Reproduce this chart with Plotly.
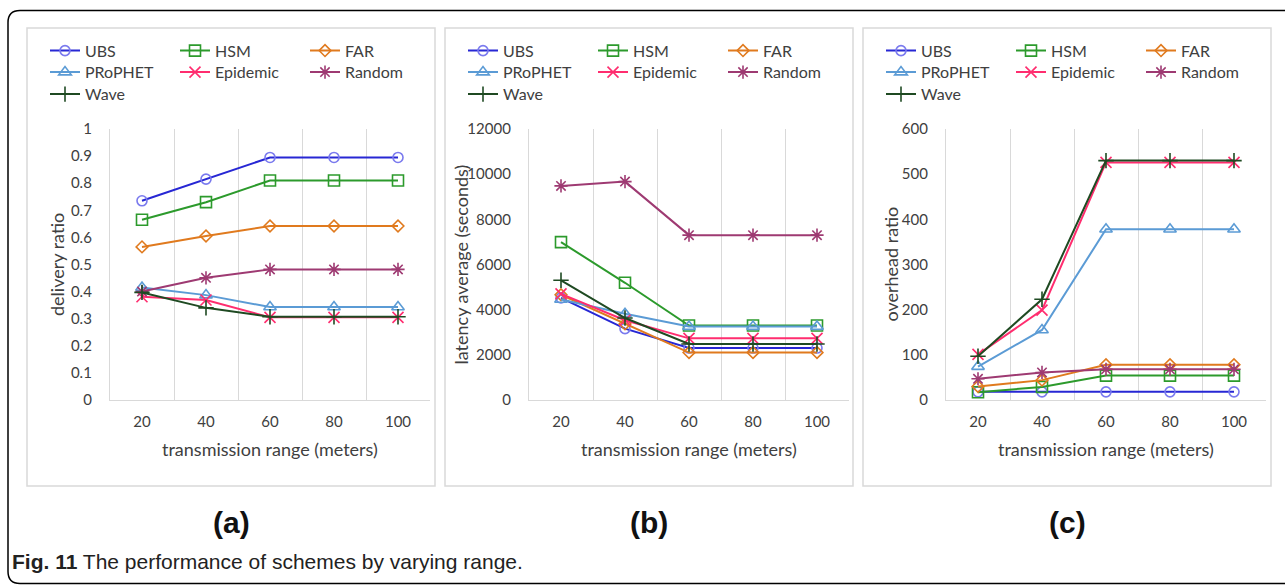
import plotly.graph_objects as go

W, H = 1285, 586
FONT = "Lato, 'Open Sans', sans-serif"

# ---------------- data ----------------
ranges = ["20", "40", "60", "80", "100"]
series_names = ["UBS", "HSM", "FAR", "PRoPHET", "Epidemic", "Random", "Wave"]

# (a) delivery ratio
delivery_UBS = [0.735, 0.815, 0.895, 0.895, 0.895]
delivery_HSM = [0.665, 0.73, 0.81, 0.81, 0.81]
delivery_FAR = [0.565, 0.605, 0.642, 0.642, 0.642]
delivery_PRoPHET = [0.415, 0.387, 0.343, 0.343, 0.343]
delivery_Epidemic = [0.381, 0.369, 0.305, 0.305, 0.305]
delivery_Random = [0.40, 0.451, 0.482, 0.482, 0.482]
delivery_Wave = [0.397, 0.34, 0.307, 0.307, 0.307]

# (b) latency average (seconds)
latency_UBS = [4520, 3160, 2300, 2300, 2300]
latency_HSM = [6990, 5190, 3300, 3300, 3300]
latency_FAR = [4660, 3370, 2100, 2100, 2100]
latency_PRoPHET = [4450, 3820, 3250, 3250, 3250]
latency_Epidemic = [4700, 3530, 2730, 2730, 2730]
latency_Random = [9480, 9670, 7300, 7300, 7300]
latency_Wave = [5300, 3630, 2480, 2480, 2480]

# (c) overhead ratio
overhead_UBS = [18, 18, 18, 18, 18]
overhead_HSM = [17, 29, 54, 54, 54]
overhead_FAR = [30, 44, 78, 78, 78]
overhead_PRoPHET = [74, 155, 378, 378, 378]
overhead_Epidemic = [101, 199, 526, 526, 526]
overhead_Random = [47, 61, 68, 68, 68]
overhead_Wave = [97, 223, 530, 530, 530]

panel_data = [
    [delivery_UBS, delivery_HSM, delivery_FAR, delivery_PRoPHET, delivery_Epidemic, delivery_Random, delivery_Wave],
    [latency_UBS, latency_HSM, latency_FAR, latency_PRoPHET, latency_Epidemic, latency_Random, latency_Wave],
    [overhead_UBS, overhead_HSM, overhead_FAR, overhead_PRoPHET, overhead_Epidemic, overhead_Random, overhead_Wave],
]
y_titles = ["delivery ratio", "latency average (seconds)", "overhead ratio"]
x_title = "transmission range (meters)"
panel_labels = ["(a)", "(b)", "(c)"]
caption_bold = "Fig. 11"
caption_text = "The performance of schemes by varying range."
y_ranges = [[0, 1], [0, 12000], [0, 600]]
y_dticks = [0.1, 2000, 100]

# ---------------- styles ----------------
line_colors = ["#2727d4", "#2c9a2c", "#e07a1e", "#5b9bd5", "#ff2d6f", "#9e3a72", "#1f4a22"]
marker_colors = ["#7a7aee", "#2c9a2c", "#e07a1e", "#5b9bd5", "#ff2d6f", "#9e3a72", "#1f4a22"]
symbols = ["circle-open", "square-open", "diamond-open", "triangle-up-open",
           "x-thin-open", "asterisk-open", "cross-thin-open"]
msizes = [10, 11, 9, 11, 11, 11, 11]
legend_rows = [0, 0, 0, 1, 1, 1, 2]

# pixel geometry
panel_box = [(27, 435), (445, 853), (863, 1271)]
plot_x = [(110, 430), (529, 849), (946, 1266)]
plot_top, plot_bottom = 129, 400
row_y = [50.7, 72.2, 94.2]


def px(x):
    return x / W


def py(y):
    return 1 - y / H


fig = go.Figure()

for p in range(3):
    xa = "x" if p == 0 else f"x{p + 1}"
    ya = "y" if p == 0 else f"y{p + 1}"
    for s, name in enumerate(series_names):
        leg_idx = p * 3 + legend_rows[s] + 1
        leg = "legend" if leg_idx == 1 else f"legend{leg_idx}"
        fig.add_trace(go.Scatter(
            x=ranges, y=panel_data[p][s], name=name, mode="lines+markers",
            line=dict(color=line_colors[s], width=2),
            marker=dict(symbol=symbols[s], size=msizes[s], color=marker_colors[s],
                        line=dict(color=marker_colors[s], width=1.6)),
            xaxis=xa, yaxis=ya, legend=leg, cliponaxis=False,
        ))

layout = dict(
    width=W, height=H, margin=dict(l=0, r=0, t=0, b=0, pad=0),
    paper_bgcolor="white", plot_bgcolor="white",
    font=dict(family=FONT, color="#404040", size=15),
    showlegend=True,
)

for p in range(3):
    sx = "" if p == 0 else str(p + 1)
    layout["xaxis" + sx] = dict(
        domain=[px(plot_x[p][0]), px(plot_x[p][1])],
        anchor="y" + sx, type="category", range=[-0.5, 4.5],
        tickson="boundaries", ticks="", showgrid=True, gridcolor="#d9d9d9", gridwidth=1,
        showline=True, linecolor="#d9d9d9", linewidth=1.3,
        tickfont=dict(family=FONT, size=15, color="#404040"),
        ticklabelstandoff=8, zeroline=False, fixedrange=True, automargin=False,
    )
    layout["yaxis" + sx] = dict(
        domain=[py(plot_bottom), py(plot_top)],
        anchor="x" + sx, range=y_ranges[p], dtick=y_dticks[p], tick0=0,
        tickformat="d" if p > 0 else "", showgrid=False, ticks="",
        showline=True, linecolor="#d9d9d9", linewidth=1.3, zeroline=False,
        tickfont=dict(family=FONT, size=15, color="#404040"),
        ticklabelstandoff=14, fixedrange=True, automargin=False,
    )
    for r in range(3):
        leg_idx = p * 3 + r + 1
        key = "legend" if leg_idx == 1 else f"legend{leg_idx}"
        layout[key] = dict(
            orientation="h", x=px(panel_box[p][0] + 18), xanchor="left",
            y=py(row_y[r]), yanchor="middle", bgcolor="rgba(0,0,0,0)",
            font=dict(family=FONT, size=16, color="#404040"),
            entrywidth=85, entrywidthmode="pixels", traceorder="normal",
            itemclick=False, itemdoubleclick=False, borderwidth=0,
        )

shapes = []
# outer rounded frame (left side closed, extends past right edge)
r = 12
x0, y0, x1, y1 = 8, 10.5, W + 5, 583.5
path = (f"M {px(x1)} {py(y0)} L {px(x0 + r)} {py(y0)} "
        f"Q {px(x0)} {py(y0)} {px(x0)} {py(y0 + r)} "
        f"L {px(x0)} {py(y1 - r)} Q {px(x0)} {py(y1)} {px(x0 + r)} {py(y1)} "
        f"L {px(x1)} {py(y1)}")
shapes.append(dict(type="path", xref="paper", yref="paper", path=path,
                   line=dict(color="#000000", width=1.5)))
for p in range(3):
    shapes.append(dict(type="rect", xref="paper", yref="paper",
                       x0=px(panel_box[p][0]), x1=px(panel_box[p][1]),
                       y0=py(486), y1=py(28),
                       line=dict(color="#d9d9d9", width=1.5), fillcolor="rgba(0,0,0,0)",
                       layer="below"))
layout["shapes"] = shapes

annotations = []
ytitle_x = [56.5, 460, 890]
for p in range(3):
    annotations.append(dict(text=y_titles[p], xref="paper", yref="paper",
                            x=px(ytitle_x[p]), y=py((plot_top + plot_bottom) / 2),
                            textangle=-90, showarrow=False, xanchor="center", yanchor="middle",
                            font=dict(family=FONT, size=18, color="#404040")))
    annotations.append(dict(text=x_title, xref="paper", yref="paper",
                            x=px((plot_x[p][0] + plot_x[p][1]) / 2), y=py(449),
                            showarrow=False, xanchor="center", yanchor="middle",
                            font=dict(family=FONT, size=18, color="#404040")))
    annotations.append(dict(text="<b>" + panel_labels[p] + "</b>", xref="paper", yref="paper",
                            x=px((panel_box[p][0] + panel_box[p][1]) / 2), y=py(522),
                            showarrow=False, xanchor="center", yanchor="middle",
                            font=dict(family="'Liberation Sans', Arial, sans-serif",
                                      size=30, color="#111111")))
annotations.append(dict(text=f"<b>{caption_bold}</b> {caption_text}", xref="paper", yref="paper",
                        x=px(10), y=py(561), showarrow=False, xanchor="left", yanchor="middle",
                        font=dict(family="'Liberation Sans', Arial, sans-serif",
                                  size=21, color="#222222")))
layout["annotations"] = annotations

fig.update_layout(**layout)
fig.write_html("out.html", config={"displayModeBar": False},
               post_script="document.body.style.margin='0';document.body.style.overflow='hidden';")
